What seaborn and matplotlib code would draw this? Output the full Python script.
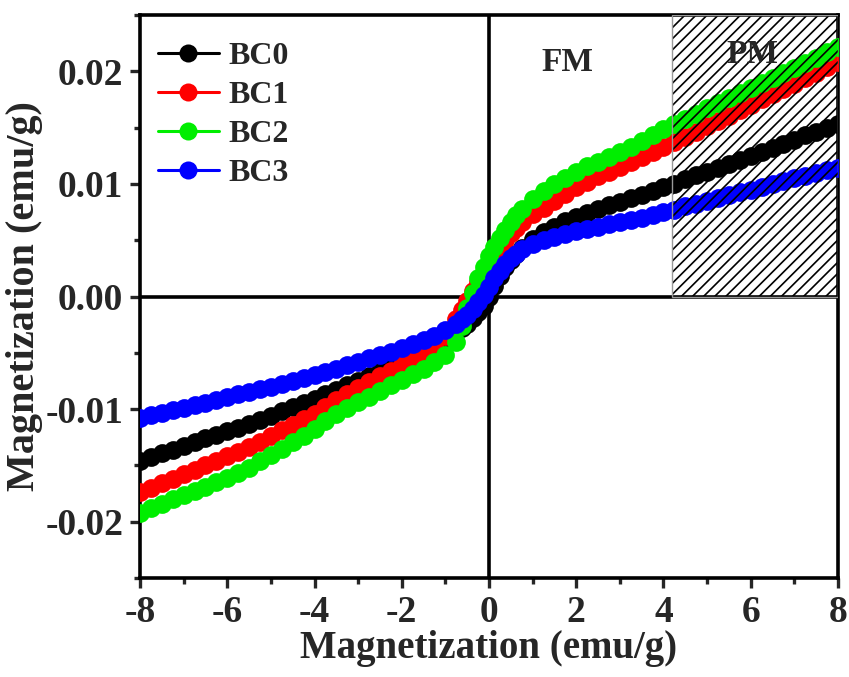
#!/usr/bin/env python3
# M-H loops of the BC samples, FM / PM regions marked.

import numpy as np
import pandas as pd
import seaborn as sns
import matplotlib

matplotlib.use("Agg")
import matplotlib.pyplot as plt
from matplotlib.lines import Line2D
from matplotlib.patches import Rectangle

# Data (field values, magnetization in 1e-3 emu/g).
# Denser sampling around zero where the curves are steep.
field = [-8.0, -7.75, -7.5, -7.25, -7.0, -6.75, -6.5, -6.25, -6.0, -5.75,
         -5.5, -5.25, -5.0, -4.75, -4.5, -4.25, -4.0, -3.75, -3.5, -3.25,
         -3.0, -2.75, -2.5, -2.25, -2.0, -1.75, -1.5, -1.25, -1.0, -0.75,
         -0.625, -0.5, -0.375, -0.25, -0.125, 0.0, 0.125, 0.25, 0.375, 0.5,
         0.625, 0.75, 1.0, 1.25, 1.5, 1.75,
         2.0, 2.25, 2.5, 2.75, 3.0, 3.25, 3.5, 3.75, 4.0, 4.25,
         4.5, 4.75, 5.0, 5.25, 5.5, 5.75, 6.0, 6.25, 6.5, 6.75,
         7.0, 7.25, 7.5, 7.75, 8.0]

bc0 = [-14.6, -14.25, -13.9, -13.6, -13.25, -12.95, -12.6, -12.3, -11.95, -11.65,
       -11.3, -10.95, -10.6, -10.2, -9.85, -9.45, -9.1, -8.7, -8.3, -7.9,
       -7.5, -7.1, -6.6, -6.2, -5.8, -5.3, -4.8, -4.3, -3.7, -3.1,
       -2.8, -2.4, -1.95, -1.4, -0.8, 0.0, 0.9, 1.8, 2.6, 3.2,
       3.8, 4.3, 5.1, 5.7, 6.2, 6.7,
       7.1, 7.45, 7.8, 8.1, 8.4, 8.75, 9.05, 9.35, 9.7, 10.0,
       10.4, 10.75, 11.1, 11.45, 11.8, 12.15, 12.5, 12.85, 13.2, 13.55,
       13.9, 14.3, 14.65, 15.0, 15.35]

bc1 = [-17.4, -17.0, -16.6, -16.2, -15.8, -15.4, -15.0, -14.6, -14.2, -13.8,
       -13.35, -12.9, -12.4, -11.9, -11.4, -10.9, -10.4, -9.8, -9.2, -8.65,
       -8.1, -7.6, -7.1, -6.6, -6.1, -5.6, -5.1, -4.4, -3.5, -2.0,
       -1.2, -0.4, 0.5, 1.3, 2.0, 2.6, 3.4, 4.2, 5.0, 5.6,
       6.1, 6.6, 7.3, 7.9, 8.5, 9.1,
       9.7, 10.2, 10.7, 11.1, 11.5, 11.95, 12.4, 12.8, 13.25, 13.7,
       14.2, 14.65, 15.1, 15.6, 16.05, 16.55, 17.0, 17.5, 17.95, 18.45,
       18.9, 19.4, 19.85, 20.35, 20.8]

bc2 = [-19.2, -18.8, -18.4, -18.0, -17.65, -17.3, -16.9, -16.5, -16.1, -15.7,
       -15.2, -14.65, -14.1, -13.5, -12.95, -12.4, -11.8, -11.1, -10.45, -9.9,
       -9.4, -8.9, -8.4, -7.9, -7.4, -6.9, -6.4, -5.8, -5.2, -4.0,
       -2.6, -1.0, 0.3, 1.6, 2.6, 3.6, 4.4, 5.2, 5.9, 6.6,
       7.2, 7.8, 8.7, 9.4, 10.0, 10.55,
       11.1, 11.55, 11.95, 12.35, 12.8, 13.3, 13.8, 14.35, 14.9, 15.35,
       15.8, 16.25, 16.7, 17.15, 17.6, 18.05, 18.5, 18.95, 19.4, 19.85,
       20.3, 20.75, 21.2, 21.7, 22.2]

bc3 = [-10.8, -10.55, -10.35, -10.1, -9.9, -9.65, -9.45, -9.2, -8.95, -8.7,
       -8.5, -8.25, -8.0, -7.75, -7.5, -7.2, -6.95, -6.7, -6.4, -6.1,
       -5.8, -5.5, -5.2, -4.9, -4.6, -4.25, -3.9, -3.5, -3.0, -2.4,
       -2.0, -1.6, -1.1, -0.5, 0.1, 0.8, 1.6, 2.3, 2.9, 3.4,
       3.8, 4.2, 4.7, 5.0, 5.3, 5.55,
       5.8, 6.0, 6.2, 6.4, 6.6, 6.8, 7.0, 7.25, 7.5, 7.7,
       8.0, 8.25, 8.5, 8.75, 9.0, 9.25, 9.5, 9.75, 10.0, 10.25,
       10.5, 10.7, 10.95, 11.2, 11.4]

samples = ["BC0", "BC1", "BC2", "BC3"]
colors = ["#000000", "#ff0000", "#00ee00", "#0000ff"]

# PM region start on the field axis.
pm_start = 4.2


def build_frame():
    df_list = []
    for name, values in zip(samples, [bc0, bc1, bc2, bc3]):
        df = pd.DataFrame({"field": field,
                           "moment": np.array(values) * 1e-3})
        df["sample"] = name
        df_list.append(df)
    return pd.concat(df_list, axis=0, ignore_index=True)


def main():
    df = build_frame()
    palette = dict(zip(samples, colors))

    sns.set_style("ticks")
    plt.rcParams["font.family"] = ["Liberation Serif", "DejaVu Serif"]
    plt.rcParams["font.weight"] = "bold"
    plt.rcParams["axes.unicode_minus"] = False
    plt.rcParams["hatch.linewidth"] = 1.2

    fig = plt.figure(figsize=(8.49, 6.77), dpi=100)
    ax = fig.add_axes([140 / 849, 1 - 578 / 677, 698 / 849, 563 / 677])

    # zero lines below the data
    ax.axhline(0, color="black", lw=2.6, zorder=1)
    ax.axvline(0, color="black", lw=2.6, zorder=1)

    for name in samples:
        sns.lineplot(
            data=df[df["sample"] == name],
            x="field",
            y="moment",
            color=palette[name],
            sort=False,
            estimator=None,
            marker="o",
            markersize=13.5,
            markeredgewidth=0,
            lw=2,
            legend=False,
            ax=ax,
            zorder=3,
        )

    # hatched PM box on top of the curves
    ax.add_patch(Rectangle((pm_start, 0), 8 - pm_start, 0.025, fill=False,
                           hatch="///", edgecolor="black", lw=0, zorder=5))
    ax.add_patch(Rectangle((pm_start, 0), 8 - pm_start, 0.025, fill=False,
                           edgecolor="#999999", lw=1.0, zorder=5))

    ax.text(1.8, 0.0208, "FM", fontsize=24, fontweight="bold",
            ha="center", va="center", zorder=6)
    ax.text(6.05, 0.0215, "PM", fontsize=24, fontweight="bold",
            ha="center", va="center", zorder=6)

    ax.set_xlim(-8, 8)
    ax.set_ylim(-0.025, 0.025)
    ax.set_xticks([-8, -6, -4, -2, 0, 2, 4, 6, 8])
    ax.set_xticks([-7, -5, -3, -1, 1, 3, 5, 7], minor=True)
    ax.set_yticks([-0.02, -0.01, 0.0, 0.01, 0.02])
    ax.set_yticks([-0.025, -0.015, -0.005, 0.005, 0.015, 0.025], minor=True)
    ax.set_yticklabels(["-0.02", "-0.01", "0.00", "0.01", "0.02"])

    ax.tick_params(axis="both", which="major", direction="out", length=7,
                   width=2.4, labelsize=27, pad=5)
    ax.tick_params(axis="both", which="minor", direction="out", length=4,
                   width=2.4)
    for spine in ax.spines.values():
        spine.set_linewidth(2.6)
        spine.set_color("black")

    ax.set_xlabel("Magnetization (emu/g)", fontsize=28, fontweight="bold",
                  labelpad=0)
    ax.set_ylabel("Magnetization (emu/g)", fontsize=29, fontweight="bold",
                  labelpad=2)

    handles = [Line2D([], [], color=c, lw=2.2, marker="o", markersize=13,
                      markeredgewidth=0) for c in colors]
    ax.legend(handles, samples, loc="upper left",
              bbox_to_anchor=(18 / 698, 0.952), frameon=False,
              prop={"size": 23, "weight": "bold"}, handlelength=1.9,
              handletextpad=0.3, labelspacing=0.3, borderpad=0,
              borderaxespad=0)

    fig.savefig("out.png", dpi=100)
    plt.close()


if __name__ == "__main__":
    main()
